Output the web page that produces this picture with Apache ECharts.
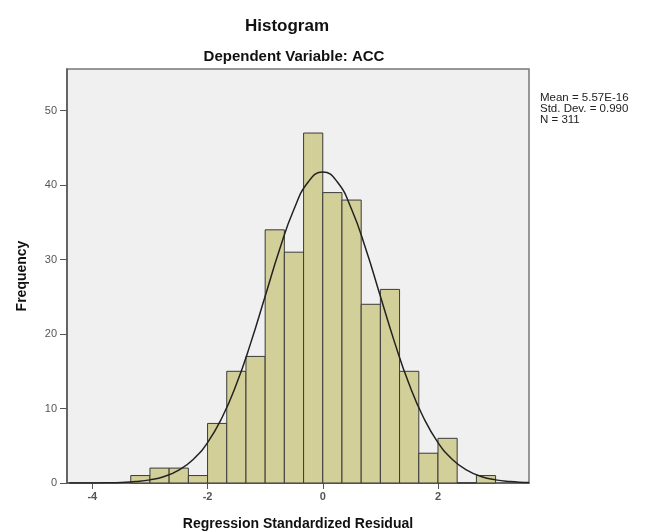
<!DOCTYPE html>
<html>
<head>
<meta charset="utf-8">
<script src="https://cdn.jsdelivr.net/npm/echarts@6/dist/echarts.min.js"></script>
<style>
  html, body { margin: 0; padding: 0; background: #fff; }
  #chart { width: 651px; height: 532px; }
</style>
</head>
<body>
<div id="chart"></div>
<script>
// bin edges (width 1/3) and counts
const binStart = [-3.333, -3.0, -2.667, -2.333, -2.0, -1.667, -1.333, -1.0, -0.667, -0.333,
                  0.0, 0.333, 0.667, 1.0, 1.333, 1.667, 2.0, 2.333, 2.667]
const binEnd   = [-3.0, -2.667, -2.333, -2.0, -1.667, -1.333, -1.0, -0.667, -0.333, 0.0,
                  0.333, 0.667, 1.0, 1.333, 1.667, 2.0, 2.333, 2.667, 3.0]
const counts   = [1, 2, 2, 1, 8, 15, 17, 34, 31, 47, 39, 38, 24, 26, 15, 4, 6, 0, 1]

// normal curve, points
const curveX = [-4.4, -4.25, -4.0, -3.75, -3.5, -3.25, -3.0, -2.75, -2.5, -2.25, -2.0, -1.75, -1.5, -1.25,
                -1.0, -0.75, -0.5, -0.25, 0, 0.25, 0.5, 0.75, 1.0, 1.25, 1.5, 1.75, 2.0, 2.25, 2.5, 2.75,
                3.0, 3.25, 3.5, 3.58]
const curveY = [0.0, 0.0, 0.01, 0.03, 0.08, 0.19, 0.42, 0.88, 1.72, 3.16, 5.43, 8.76, 13.25, 18.82,
                25.08, 31.35, 36.76, 40.46, 41.77, 40.46, 36.76, 31.35, 25.08, 18.82, 13.25, 8.76, 5.43, 3.16, 1.72, 0.88,
                0.42, 0.19, 0.08, 0.06]

const xTicks = [-4, -2, 0, 2]
const yTicks = [0, 10, 20, 30, 40, 50]
const statLines = ['Mean = 5.57E-16', 'Std. Dev. = 0.990', 'N = 311']

const chart = echarts.init(document.getElementById('chart'))

const bars = counts.map((c, i) => [binStart[i], binEnd[i], c])
const curve = curveX.map((x, i) => [x, curveY[i]])

const option = {
  animation: false,
  backgroundColor: '#ffffff',
  title: [
    {
      text: 'Histogram',
      left: 282, top: 13, textAlign: 'center',
      textStyle: { fontFamily: 'Liberation Sans', fontWeight: 'bold', fontSize: 17, color: '#111' }
    },
    {
      text: 'Dependent Variable: ACC',
      left: 289, top: 44, textAlign: 'center',
      textStyle: { fontFamily: 'Liberation Sans', fontWeight: 'bold', fontSize: 15, color: '#111' }
    }
  ],
  graphic: [{
    type: 'text',
    left: 540, top: 92,
    style: {
      text: statLines.join('\n'),
      font: '11.5px "Liberation Sans"',
      lineHeight: 11,
      fill: '#222'
    }
  }],
  grid: {
    left: 67, right: 122, top: 69, bottom: 49,
    outerBoundsMode: 'none',
    show: true,
    backgroundColor: '#f0f0f0',
    borderColor: '#777',
    borderWidth: 1.5
  },
  xAxis: {
    type: 'value',
    min: -4.44, max: 3.58,
    name: 'Regression Standardized Residual',
    nameLocation: 'middle',
    nameGap: 34,
    nameTextStyle: { fontFamily: 'Liberation Sans', fontWeight: 'bold', fontSize: 14, color: '#111' },
    axisLine: { show: true, onZero: false, lineStyle: { color: '#555', width: 1.5 } },
    axisTick: { show: true, customValues: xTicks, length: 6, lineStyle: { color: '#555' } },
    axisLabel: {
      customValues: xTicks, margin: 8,
      fontFamily: 'Liberation Sans', fontWeight: 'bold', fontSize: 11, color: '#555'
    },
    splitLine: { show: false }
  },
  yAxis: {
    type: 'value',
    min: 0, max: 55.6,
    name: 'Frequency',
    nameLocation: 'middle',
    nameGap: 38,
    nameTextStyle: { fontFamily: 'Liberation Sans', fontWeight: 'bold', fontSize: 14, color: '#111' },
    axisLine: { show: true, onZero: false, lineStyle: { color: '#555', width: 1.5 } },
    axisTick: { show: true, customValues: yTicks, length: 7, lineStyle: { color: '#555' } },
    axisLabel: {
      customValues: yTicks, margin: 10,
      fontFamily: 'Liberation Sans', fontSize: 11, color: '#555'
    },
    splitLine: { show: false }
  },
  series: [
    {
      type: 'custom',
      name: 'bins',
      data: bars,
      encode: { x: [0, 1], y: 2 },
      renderItem: function (params, api) {
        const lo = api.coord([api.value(0), api.value(2)])
        const hi = api.coord([api.value(1), 0])
        return {
          type: 'rect',
          shape: { x: lo[0], y: lo[1], width: hi[0] - lo[0], height: hi[1] - lo[1] },
          style: { fill: '#d3cf98', stroke: '#3a3a3a', lineWidth: 1 }
        }
      },
      z: 2
    },
    {
      type: 'line',
      name: 'normal',
      data: curve,
      smooth: true,
      showSymbol: false,
      lineStyle: { color: '#222', width: 1.5 },
      z: 3
    }
  ]
}

chart.setOption(option)
</script>
</body>
</html>
